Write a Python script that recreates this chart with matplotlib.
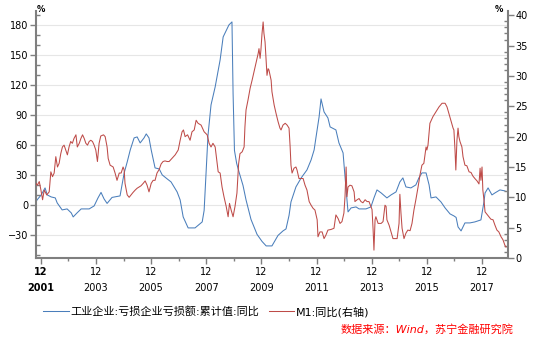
import matplotlib
matplotlib.use("Agg")
import matplotlib.pyplot as plt
from matplotlib.ticker import MultipleLocator, FixedLocator

plt.rcParams['font.family'] = ['DejaVu Sans', 'Noto Sans CJK SC']

# 工业企业:亏损企业亏损额:累计值:同比 (left axis, %)
loss_t = [2001.75, 2001.78, 2001.93, 2002.07, 2002.15, 2002.29, 2002.44, 2002.51, 2002.69, 2002.87,
          2003.02, 2003.09, 2003.23, 2003.38, 2003.67, 2003.85, 2003.99, 2004.10, 2004.21, 2004.32,
          2004.50, 2004.79, 2004.94, 2005.05, 2005.16, 2005.30, 2005.41, 2005.52, 2005.66, 2005.74,
          2005.84, 2005.92, 2006.06, 2006.21, 2006.32, 2006.50, 2006.64, 2006.86, 2006.97, 2007.08,
          2007.26, 2007.51, 2007.77, 2007.84, 2007.91, 2007.98, 2008.09, 2008.24, 2008.42, 2008.53,
          2008.74, 2008.85, 2008.89, 2008.94, 2009.02, 2009.11, 2009.25, 2009.36, 2009.54, 2009.76,
          2009.94, 2010.09, 2010.30, 2010.52, 2010.70, 2010.81, 2010.92, 2010.99, 2011.17, 2011.36,
          2011.57, 2011.72, 2011.83, 2011.90, 2012.01, 2012.08, 2012.19, 2012.33, 2012.41, 2012.62,
          2012.73, 2012.88, 2012.93, 2012.99, 2013.06, 2013.17, 2013.35, 2013.46, 2013.71, 2013.89,
          2014.00, 2014.11, 2014.26, 2014.47, 2014.62, 2014.80, 2014.94, 2015.05, 2015.16, 2015.34,
          2015.52, 2015.63, 2015.74, 2015.89, 2016.00, 2016.07, 2016.25, 2016.43, 2016.58, 2016.76,
          2016.90, 2016.98, 2017.05, 2017.16, 2017.30, 2017.48, 2017.66, 2017.88, 2017.99, 2018.03,
          2018.14, 2018.28, 2018.39, 2018.57, 2018.75]
loss_v = [4, 5.5, 10.5, 17.5, 10.5, 8.5, 7.5, 2.5, -4.5, -3.5,
          -7.5, -11.5, -7.5, -3.5, -3.5, -0.5, 7.5, 13, 6.5, 2,
          8, 9.5, 32.5, 43.5, 55.5, 67.5, 68.5, 62.5, 67.5, 71.5,
          67.5, 55.5, 37.5, 36.5, 30.5, 26.5, 23.5, 13.5, 5.5, -11.5,
          -22.5, -22.5, -16.5, -5, 32.5, 70, 100.5, 118.5, 145.5, 168.5,
          180.5, 183.5, 112, 55, 42, 33, 20, 5.5, -14, -29,
          -36, -40.5, -40.5, -30, -25.5, -23.5, -10, 3.5, 18.5, 27.5,
          35.5, 45.5, 55.5, 68.5, 88.5, 106.5, 93.5, 87.5, 78.5, 75.5,
          62.5, 52.5, 35.5, 15.5, -6.5, -2.5, -1.5, -3.5, -3.5, -1.5,
          7.5, 15.5, 12.5, 7.5, 10.5, 13.5, 23.5, 27.5, 18.5, 17.5,
          20.5, 27.5, 32.5, 32.5, 20.5, 7.5, 8.5, 3.5, -2.5, -8.5,
          -10.5, -12, -21.5, -25.5, -17.5, -17.5, -16.5, -14.5, 3.5, 12.5,
          17.5, 10.5, 12.5, 15.5, 14.5]

# M1:同比 (right axis, %)
m1_t = [2001.74, 2001.79, 2001.86, 2001.92, 2001.98, 2002.04, 2002.13, 2002.22, 2002.28, 2002.34,
        2002.40, 2002.46, 2002.52, 2002.58, 2002.64, 2002.70, 2002.76, 2002.82, 2002.88, 2002.94,
        2003.00, 2003.06, 2003.12, 2003.19, 2003.24, 2003.31, 2003.37, 2003.43, 2003.49, 2003.55,
        2003.61, 2003.67, 2003.73, 2003.79, 2003.85, 2003.91, 2003.97, 2004.03, 2004.09, 2004.19,
        2004.25, 2004.32, 2004.36, 2004.43, 2004.54, 2004.61, 2004.68, 2004.76, 2004.83, 2004.90,
        2004.94, 2004.97, 2005.05, 2005.12, 2005.19, 2005.26, 2005.34, 2005.41, 2005.48, 2005.55,
        2005.63, 2005.70, 2005.77, 2005.84, 2005.92, 2005.99, 2006.06, 2006.13, 2006.21, 2006.28,
        2006.35, 2006.42, 2006.50, 2006.57, 2006.79, 2006.90, 2006.97, 2007.04, 2007.09, 2007.15,
        2007.24, 2007.33, 2007.40, 2007.48, 2007.55, 2007.62, 2007.73, 2007.84, 2007.95, 2008.02,
        2008.09, 2008.16, 2008.24, 2008.35, 2008.42, 2008.49, 2008.56, 2008.64, 2008.71, 2008.76,
        2008.82, 2008.89, 2008.96, 2009.03, 2009.09, 2009.14, 2009.22, 2009.29, 2009.32, 2009.36,
        2009.43, 2009.51, 2009.58, 2009.65, 2009.72, 2009.80, 2009.83, 2009.87, 2009.90, 2009.94,
        2009.98, 2010.01, 2010.05, 2010.09, 2010.12, 2010.16, 2010.19, 2010.27, 2010.30, 2010.38,
        2010.45, 2010.52, 2010.59, 2010.63, 2010.70, 2010.78, 2010.85, 2010.92, 2010.96, 2010.99,
        2011.03, 2011.10, 2011.17, 2011.21, 2011.28, 2011.36, 2011.43, 2011.50, 2011.57, 2011.65,
        2011.72, 2011.79, 2011.86, 2011.94, 2011.97, 2012.04, 2012.12, 2012.19, 2012.26, 2012.33,
        2012.44, 2012.55, 2012.62, 2012.70, 2012.77, 2012.84, 2012.91, 2012.95, 2012.99, 2013.02,
        2013.06, 2013.13, 2013.20, 2013.28, 2013.31, 2013.39, 2013.46, 2013.53, 2013.60, 2013.68,
        2013.75, 2013.82, 2013.93, 2013.97, 2014.00, 2014.04, 2014.07, 2014.15, 2014.26, 2014.33,
        2014.40, 2014.44, 2014.47, 2014.55, 2014.62, 2014.69, 2014.76, 2014.84, 2014.91, 2014.94,
        2014.98, 2015.02, 2015.09, 2015.16, 2015.23, 2015.31, 2015.38, 2015.45, 2015.52, 2015.60,
        2015.67, 2015.74, 2015.81, 2015.89, 2015.92, 2015.96, 2016.03, 2016.14, 2016.25, 2016.36,
        2016.47, 2016.58, 2016.65, 2016.72, 2016.79, 2016.87, 2016.90, 2016.94, 2016.97, 2017.01,
        2017.05, 2017.08, 2017.12, 2017.19, 2017.23, 2017.30, 2017.37, 2017.45, 2017.52, 2017.59,
        2017.66, 2017.74, 2017.81, 2017.85, 2017.88, 2017.92, 2017.95, 2017.99, 2018.03, 2018.10,
        2018.17, 2018.24, 2018.32, 2018.39, 2018.46, 2018.53, 2018.61, 2018.68, 2018.75, 2018.79]
m1_v = [12.3, 12.0, 12.6, 11.2, 9.6, 11.2, 10.4, 10.9, 14.2, 13.4,
        14.0, 16.7, 15.0, 15.6, 17.2, 18.3, 18.6, 17.8, 17.0, 18.3,
        19.2, 18.9, 19.7, 20.3, 18.3, 18.9, 19.7, 20.3, 19.7, 18.9,
        18.6, 19.2, 19.4, 19.2, 18.6, 17.8, 15.9, 18.9, 20.1, 20.3,
        20.0, 18.3, 16.4, 15.3, 15.0, 14.0, 12.8, 14.0, 14.0, 15.0,
        14.5, 12.3, 10.4, 10.0, 10.4, 10.8, 11.2, 11.5, 11.7, 11.9,
        12.3, 12.7, 12.0, 10.9, 12.3, 12.8, 12.8, 14.0, 14.6, 15.5,
        15.9, 16.0, 15.9, 15.9, 17.0, 17.8, 19.4, 20.8, 21.1, 20.0,
        20.3, 19.4, 20.8, 21.1, 22.7, 22.2, 21.9, 20.8, 20.3, 18.9,
        18.3, 18.9, 18.3, 14.2, 14.0, 11.7, 10.1, 8.5, 6.8, 9.0,
        7.9, 6.8, 8.5, 10.7, 15.5, 17.2, 17.5, 18.3, 21.6, 24.4,
        26.0, 28.0, 29.3, 30.7, 32.1, 33.7, 34.5, 32.9, 34.3, 37.0,
        38.9, 37.0, 35.6, 32.3, 30.1, 31.2, 31.0, 29.3, 27.4, 25.2,
        23.8, 22.5, 21.4, 21.1, 21.9, 22.2, 21.9, 21.4, 18.3, 15.3,
        14.0, 14.8, 15.0, 14.5, 13.1, 13.1, 13.1, 12.0, 11.2, 9.3,
        8.7, 8.2, 7.9, 6.3, 3.5, 4.3, 4.3, 3.2, 3.8, 4.6,
        4.7, 4.9, 7.1, 6.5, 5.7, 6.0, 7.4, 10.1, 15.0, 10.1,
        11.7, 12.0, 11.9, 10.9, 9.3, 9.6, 9.8, 9.3, 9.1, 9.6,
        9.3, 9.3, 8.0, 4.6, 1.3, 6.3, 6.8, 5.7, 5.7, 6.0,
        8.7, 8.5, 6.3, 5.4, 4.3, 3.2, 3.2, 3.2, 5.7, 10.5,
        7.4, 4.9, 3.2, 4.1, 4.6, 4.5, 5.7, 7.9, 9.6, 11.7,
        13.7, 15.3, 15.6, 18.3, 17.8, 18.6, 22.2, 23.3, 24.1, 24.9,
        25.5, 25.5, 24.9, 23.8, 22.7, 21.4, 21.1, 17.8, 14.5, 19.4,
        21.4, 20.0, 19.2, 18.3, 16.7, 15.3, 15.2, 14.2, 14.1, 13.5,
        13.1, 12.7, 12.2, 14.8, 12.8, 15.0, 11.2, 9.6, 7.6, 7.2,
        6.8, 6.4, 6.3, 5.4, 4.6, 4.3, 3.5, 3.0, 2.1, 1.8]

# x ticks: December of every other year
tick_years = [2001, 2003, 2005, 2007, 2009, 2011, 2013, 2015, 2017]
tick_labels = ['12\n%d' % y for y in tick_years]

blue = '#4a7ebb'
red = '#be4b48'
axis_grey = '#7f7f7f'

fig = plt.figure(figsize=(5.44, 3.39), dpi=100)
ax = fig.add_axes([0.0656, 0.2389, 0.8676, 0.7286])
ax2 = ax.twinx()

l1, = ax.plot(loss_t, loss_v, color=blue, lw=0.75)
l2, = ax2.plot(m1_t, m1_v, color=red, lw=0.75)

ax.set_xlim(2001.73, 2018.85)
ax.set_ylim(-52.6, 194.4)
ax2.set_ylim(0, 40.7)

ax.yaxis.set_major_locator(MultipleLocator(30))
ax.yaxis.set_minor_locator(MultipleLocator(10))
ax2.yaxis.set_major_locator(MultipleLocator(5))
ax2.yaxis.set_minor_locator(MultipleLocator(1))
ax.set_xticks([y + 11 / 12 for y in tick_years])
ax.set_xticklabels(tick_labels, linespacing=1.75)
ax.xaxis.set_minor_locator(FixedLocator([y + 1 + 11 / 12 for y in tick_years]))
ax.get_xticklabels()[0].set_fontweight('bold')

ax.grid(axis='y', which='major', color='#e6e6e6', lw=0.8)
ax.set_axisbelow(True)

for a in (ax, ax2):
    for s in a.spines.values():
        s.set_color(axis_grey)
        s.set_linewidth(1.5)
    a.spines['top'].set_visible(False)
ax.spines['right'].set_visible(False)
ax2.spines['left'].set_visible(False)
ax2.spines['bottom'].set_visible(False)

ax.tick_params(axis='y', which='major', length=4, width=1, color=axis_grey, labelsize=7, pad=1.5)
ax.tick_params(axis='y', which='minor', direction='in', length=3, width=1, color=axis_grey)
ax2.tick_params(axis='y', which='major', length=4, width=1, color=axis_grey, labelsize=7, pad=1.5)
ax2.tick_params(axis='y', which='minor', direction='in', length=3, width=1, color=axis_grey)
ax.tick_params(axis='x', which='major', length=4, width=1, color=axis_grey, labelsize=7, pad=2.5)
ax.tick_params(axis='x', which='minor', length=2, width=1, color=axis_grey)

fig.text(0.067, 0.972, '%', fontsize=6, fontweight='bold', ha='left', va='center')
fig.text(0.925, 0.972, '%', fontsize=6, fontweight='bold', ha='right', va='center')

fig.legend([l1, l2], ['工业企业:亏损企业亏损额:累计值:同比', 'M1:同比(右轴)'],
           loc='center left', bbox_to_anchor=(0.079, 0.08), ncol=2, frameon=False,
           fontsize=8, handlelength=2.3, handletextpad=0.2, columnspacing=0.8,
           borderpad=0, borderaxespad=0)

fig.text(0.943, 0.027, '数据来源：Wind，苏宁金融研究院', color='#ff0000', fontsize=8,
         style='italic', ha='right', va='center')

fig.savefig('out.png', dpi=100)
